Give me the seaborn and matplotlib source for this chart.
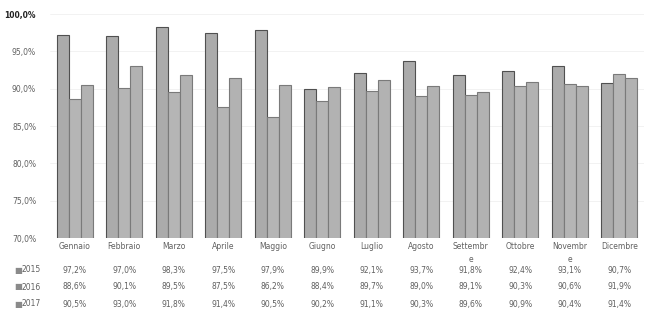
import matplotlib
matplotlib.use("Agg")
import matplotlib.pyplot as plt
import seaborn as sns
import pandas as pd

months = ["Gennaio", "Febbraio", "Marzo", "Aprile", "Maggio", "Giugno",
          "Luglio", "Agosto", "Settembre", "Ottobre", "Novembre", "Dicembre"]
month_labels = ["Gennaio", "Febbraio", "Marzo", "Aprile", "Maggio", "Giugno",
                "Luglio", "Agosto", "Settembr\ne", "Ottobre", "Novembr\ne", "Dicembre"]
years = ["2015", "2016", "2017"]
v2015 = [97.2, 97.0, 98.3, 97.5, 97.9, 89.9, 92.1, 93.7, 91.8, 92.4, 93.1, 90.7]
v2016 = [88.6, 90.1, 89.5, 87.5, 86.2, 88.4, 89.7, 89.0, 89.1, 90.3, 90.6, 91.9]
v2017 = [90.5, 93.0, 91.8, 91.4, 90.5, 90.2, 91.1, 90.3, 89.6, 90.9, 90.4, 91.4]
yticks = [70, 75, 80, 85, 90, 95, 100]

series = {"2015": v2015, "2016": v2016, "2017": v2017}
df = pd.DataFrame([
    {"Mese": m, "Anno": y, "Valore": series[y][i]}
    for y in years for i, m in enumerate(months)
])

sns.set_theme(style="white")
plt.rcParams["font.family"] = ["DejaVu Sans"]

fig = plt.figure(figsize=(6.45, 3.29), dpi=100)
ax = fig.add_axes([50 / 645, 1 - 238 / 329, 594 / 645, 224 / 329])

sns.barplot(data=df, x="Mese", y="Valore", hue="Anno", order=months,
            hue_order=years, palette=["#ababab", "#b5b5b5", "#b2b2b2"],
            width=0.72, edgecolor="#7a7a7a", linewidth=0.8, legend=False, ax=ax)

# darker outline on the first series
for patch in ax.patches[:len(months)]:
    patch.set_edgecolor("#505050")

ax.set_ylim(70, 100)
ax.set_yticks(yticks)
ax.set_yticklabels([f"{t:.1f}%".replace(".", ",") for t in yticks],
                   fontsize=5.5, color="#606060")
ax.get_yticklabels()[-1].set_color("#222222")
ax.get_yticklabels()[-1].set_fontweight("bold")
ax.set_xticks(range(len(months)))
ax.set_xticklabels(month_labels, fontsize=5.5, color="#606060", linespacing=1.6)
ax.tick_params(axis="both", length=0, pad=3)
ax.tick_params(axis="y", pad=10)
ax.set_xlabel("")
ax.set_ylabel("")
ax.grid(axis="y", color="#f0f0f0", linewidth=0.6)
ax.set_axisbelow(True)
for s in ax.spines.values():
    s.set_visible(False)

# data table under the chart
row_y = [270, 287, 304]
for r, y in enumerate(years):
    fy = 1 - row_y[r] / 329
    fig.text(14 / 645, fy, "\u25a0", fontsize=6, color="#8a8a8a",
             va="center", ha="left")
    fig.text(22 / 645, fy, y, fontsize=5.5, color="#606060",
             va="center", ha="left")
    for i, v in enumerate(series[y]):
        xf = fig.transFigure.inverted().transform(
            ax.transData.transform((i, 70)))[0]
        fig.text(xf, fy, f"{v:.1f}%".replace(".", ","), fontsize=5.5,
                 color="#606060", va="center", ha="center")

fig.savefig("out.png", dpi=100)
